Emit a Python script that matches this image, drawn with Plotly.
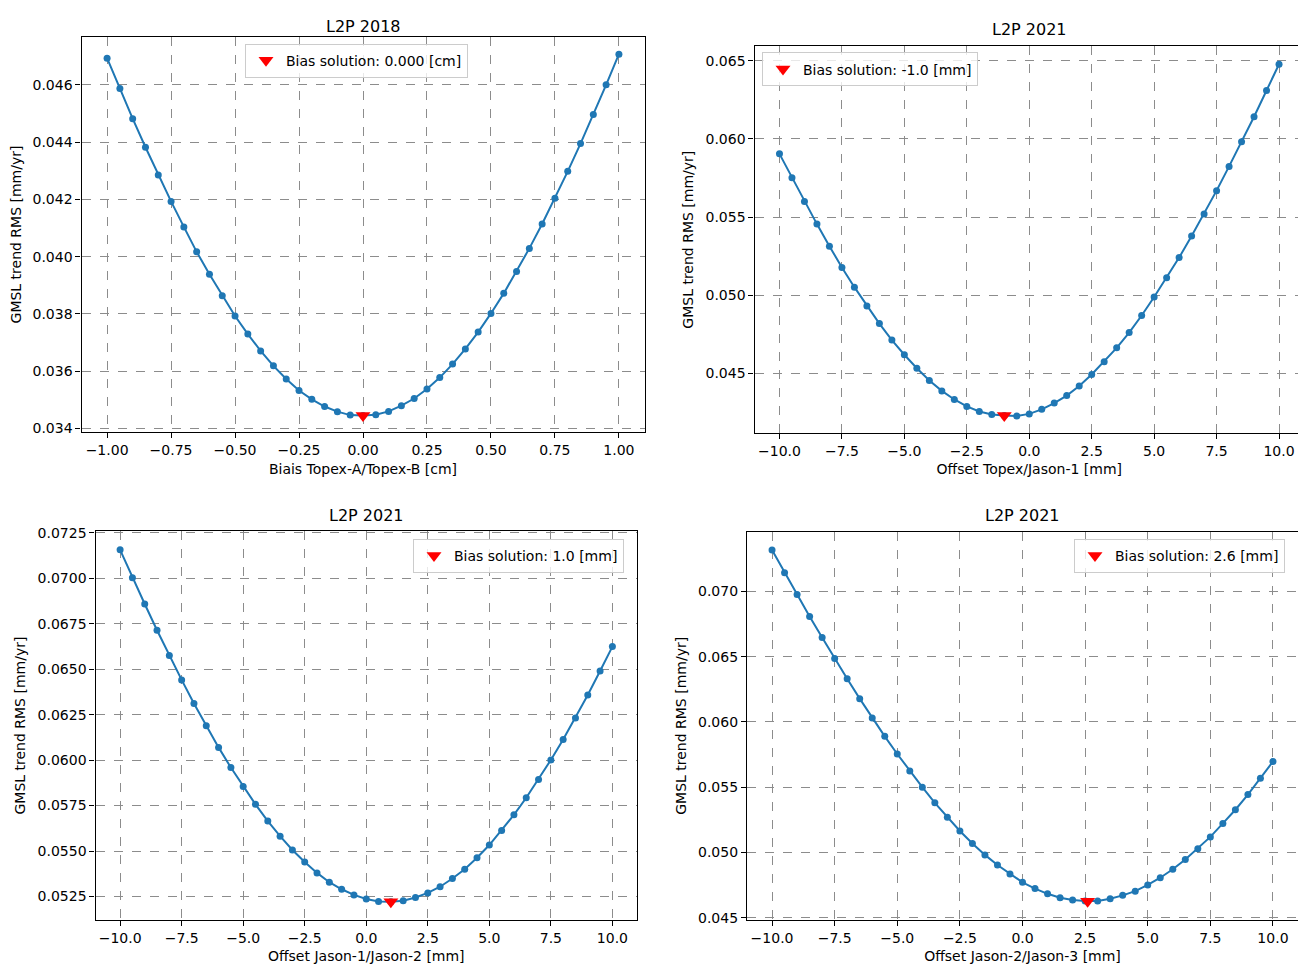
import plotly.graph_objects as go

# The page body has an 8px margin: the figure is drawn at (8, 8) in the window.
OFF = 8
W, H = 1306 - OFF, 973 - OFF

# ---------------- data ----------------
x_tab = [round(-1.0 + 0.05 * i, 2) for i in range(41)]
y_tab = [0.04693, 0.04587, 0.04482, 0.04382, 0.04285, 0.04193, 0.04104, 0.04017, 0.03939, 0.03864,
         0.03793, 0.03730, 0.03671, 0.03619, 0.03573, 0.03533, 0.03502, 0.03477, 0.03459, 0.03447,
         0.03446, 0.03448, 0.03460, 0.03480, 0.03505, 0.03538, 0.03578, 0.03625, 0.03678, 0.03737,
         0.03802, 0.03872, 0.03948, 0.04029, 0.04114, 0.04204, 0.04298, 0.04395, 0.04496, 0.04600,
         0.04707]

x_mm = [round(-10.0 + 0.5 * i, 1) for i in range(41)]
y_tj1 = [0.05904, 0.05751, 0.05600, 0.05455, 0.05314, 0.05178, 0.05052, 0.04932, 0.04819, 0.04714,
         0.04620, 0.04534, 0.04456, 0.04389, 0.04334, 0.04290, 0.04257, 0.04238, 0.04231, 0.04229,
         0.04242, 0.04271, 0.04311, 0.04359, 0.04420, 0.04494, 0.04576, 0.04664, 0.04762, 0.04871,
         0.04989, 0.05113, 0.05241, 0.05379, 0.05520, 0.05669, 0.05824, 0.05982, 0.06141, 0.06309,
         0.06477]
y_j1j2 = [0.07156, 0.07003, 0.06858, 0.06714, 0.06575, 0.06441, 0.06311, 0.06189, 0.06070, 0.05959,
          0.05855, 0.05757, 0.05665, 0.05582, 0.05506, 0.05440, 0.05380, 0.05329, 0.05290, 0.05259,
          0.05237, 0.05223, 0.05221, 0.05227, 0.05245, 0.05270, 0.05304, 0.05349, 0.05400, 0.05463,
          0.05533, 0.05613, 0.05699, 0.05793, 0.05894, 0.06001, 0.06113, 0.06232, 0.06358, 0.06490,
          0.06624]
y_j2j3 = [0.07316, 0.07143, 0.06975, 0.06807, 0.06646, 0.06486, 0.06330, 0.06178, 0.06030, 0.05889,
          0.05754, 0.05623, 0.05500, 0.05380, 0.05270, 0.05164, 0.05069, 0.04981, 0.04904, 0.04834,
          0.04771, 0.04723, 0.04683, 0.04653, 0.04635, 0.04628, 0.04628, 0.04645, 0.04671, 0.04703,
          0.04751, 0.04806, 0.04871, 0.04946, 0.05029, 0.05119, 0.05222, 0.05327, 0.05443, 0.05568,
          0.05696]

bias_x = [0.0, -1.0, 1.0, 2.6]
bias_y = [0.03446, 0.04231, 0.05221, 0.04626]
bias_labels = ["Bias solution: 0.000 [cm]", "Bias solution: -1.0 [mm]",
               "Bias solution: 1.0 [mm]", "Bias solution: 2.6 [mm]"]
titles = ["L2P 2018", "L2P 2021", "L2P 2021", "L2P 2021"]
xlabels = ["Biais Topex-A/Topex-B [cm]", "Offset Topex/Jason-1 [mm]",
           "Offset Jason-1/Jason-2 [mm]", "Offset Jason-2/Jason-3 [mm]"]
ylabel = "GMSL trend RMS [mm/yr]"

# ---------------- layout geometry (window pixels) ----------------
panels = [
    dict(l=81.5, r=644.5, t=30, b=431, x=x_tab, y=y_tab, xr=[-1.1, 1.1], dx=0.25, xf=".2f",
         yr=[0.03387, 0.04768], dy=0.002, yf=".3f", leg=(245, 37)),
    dict(l=754.5, r=1304, t=39.5, b=432, x=x_mm, y=y_tj1, xr=[-11, 11], dx=2.5, xf=".1f",
         yr=[0.04118, 0.06593], dy=0.005, yf=".3f", leg=(762, 46)),
    dict(l=95.5, r=637, t=531.5, b=925, x=x_mm, y=y_j1j2, xr=[-11, 11], dx=2.5, xf=".1f",
         yr=[0.05123, 0.07257], dy=0.0025, yf=".4f", leg=(413, 539)),
    dict(l=747, r=1298, t=532, b=925, x=x_mm, y=y_j2j3, xr=[-11, 11], dx=2.5, xf=".1f",
         yr=[0.04485, 0.07455], dy=0.005, yf=".3f", leg=(1074, 539)),
]

FONT = "DejaVu Sans"
fig = go.Figure()
layout = dict(width=W, height=H, margin=dict(l=0, r=0, t=0, b=0),
              paper_bgcolor="white", plot_bgcolor="white",
              font=dict(family=FONT, size=14, color="black"),
              annotations=[])

for i, p in enumerate(panels):
    n = i + 1
    xa = "x" if n == 1 else f"x{n}"
    ya = "y" if n == 1 else f"y{n}"
    lg = "legend" if n == 1 else f"legend{n}"
    l, r, t, b = p["l"] - OFF, p["r"] - OFF, p["t"] - OFF, p["b"] - OFF
    fig.add_trace(go.Scatter(x=p["x"], y=p["y"], mode="lines+markers",
                             line=dict(color="#1f77b4", width=2),
                             marker=dict(color="#1f77b4", size=7),
                             showlegend=False, xaxis=xa, yaxis=ya, hoverinfo="skip"))
    fig.add_trace(go.Scatter(x=[bias_x[i]], y=[bias_y[i]], mode="markers",
                             marker=dict(color="red", size=13, symbol="triangle-down"),
                             name=bias_labels[i], showlegend=True, legend=lg,
                             xaxis=xa, yaxis=ya))
    axcommon = dict(showline=True, mirror=True, linecolor="black", linewidth=1.2,
                    ticks="outside", ticklen=5, tickwidth=1.2, tickcolor="black",
                    showgrid=True, gridcolor="#8c8c8c", griddash="dash", gridwidth=1,
                    zeroline=False, tickfont=dict(family=FONT, size=14))
    layout["xaxis" if n == 1 else f"xaxis{n}"] = dict(
        domain=[l / W, r / W], range=p["xr"], dtick=p["dx"], tick0=0,
        tickformat=p["xf"], anchor=ya,
        title=dict(text=xlabels[i], font=dict(family=FONT, size=14), standoff=6), **axcommon)
    layout["yaxis" if n == 1 else f"yaxis{n}"] = dict(
        domain=[1 - b / H, 1 - t / H], range=p["yr"], dtick=p["dy"], tick0=0,
        tickformat=p["yf"], anchor=xa,
        title=dict(text=ylabel, font=dict(family=FONT, size=14), standoff=8), **axcommon)
    layout[lg] = dict(x=(p["leg"][0] - OFF) / W, y=1 - (p["leg"][1] - OFF) / H,
                      xanchor="left", yanchor="top",
                      bgcolor="rgba(255,255,255,0.8)", bordercolor="#cccccc", borderwidth=1,
                      font=dict(family=FONT, size=14), itemwidth=30, tracegroupgap=0)
    layout["annotations"].append(dict(
        text=titles[i], x=(l + r) / 2 / W, y=min(1.0, 1 - (t - 28) / H),
        xref="paper", yref="paper", xanchor="center", yanchor="top", showarrow=False,
        font=dict(family=FONT, size=16)))

fig.update_layout(**layout)
fig.write_html("out.html")
